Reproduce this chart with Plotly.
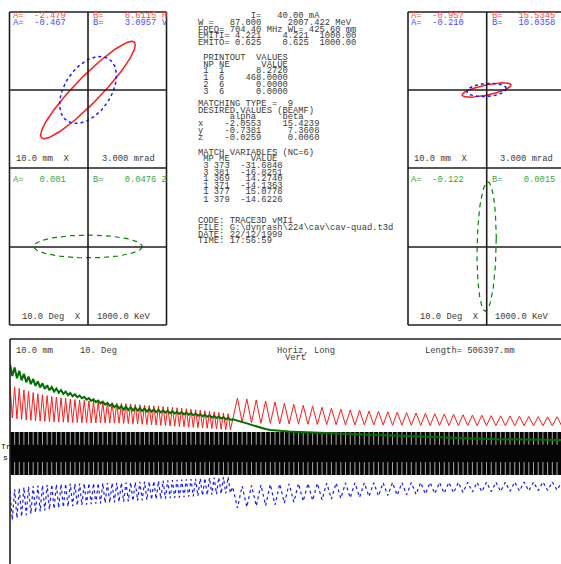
import numpy as np
import plotly.graph_objects as go

W, H = 561, 564
def px(x): return x / W
def py(y): return 1 - y / H

# ---------------- data ----------------
# phase-space ellipse parameters (x, y, z planes)
in_alpha = [-2.479, -0.467, 0.001]
in_beta = [8.6115, 3.0957, 0.0476]
out_alpha = [-0.957, -0.210, -0.122]
out_beta = [15.5345, 10.0358, 0.0015]
emit_in = [4.221, 4.221, 1000.0]
emit_out = [0.625, 0.625, 1000.0]

# lattice: cell lengths (m) and number of cells in the two sections
cell1, ncell1 = 2.32, 48
cell2, ncell2 = 4.70, 36

# envelope extremes per cell (mm / deg), section 1
red_pk1 = [5.96, 5.80, 5.66, 5.53, 5.41, 5.30, 5.20, 5.11, 5.03, 4.96, 4.90, 4.84, 4.79, 4.74, 4.69, 4.65,
           4.61, 4.57, 4.54, 4.50, 4.47, 4.44, 4.41, 4.38, 4.35, 4.32, 4.29, 4.26, 4.23, 4.20, 4.17, 4.14,
           4.11, 4.08, 4.04, 4.01, 3.97, 3.93, 3.89, 3.85, 3.80, 3.76, 3.71, 3.66, 3.61, 3.56, 3.50, 3.45]
red_tr1 = [3.07, 3.00, 2.95, 2.90, 2.86, 2.83, 2.80, 2.77, 2.75, 2.73, 2.71, 2.70, 2.69, 2.68, 2.67, 2.66,
           2.65, 2.64, 2.64, 2.63, 2.63, 2.62, 2.62, 2.61, 2.60, 2.58, 2.56, 2.54, 2.52, 2.50, 2.47, 2.45,
           2.42, 2.40, 2.37, 2.35, 2.32, 2.30, 2.27, 2.25, 2.22, 2.20, 2.17, 2.14, 2.11, 2.08, 2.05, 2.02]
blue_pk1 = [5.88, 5.72, 5.58, 5.45, 5.34, 5.23, 5.13, 5.04, 4.96, 4.89, 4.82, 4.76, 4.71, 4.66, 4.61, 4.57,
            4.53, 4.49, 4.45, 4.42, 4.39, 4.36, 4.33, 4.30, 4.27, 4.24, 4.21, 4.18, 4.15, 4.12, 4.09, 4.06,
            4.03, 4.00, 3.97, 3.94, 3.91, 3.88, 3.84, 3.81, 3.77, 3.74, 3.70, 3.66, 3.62, 3.58, 3.55, 3.51]
blue_tr1 = [3.30, 3.18, 3.09, 3.01, 2.95, 2.90, 2.86, 2.82, 2.79, 2.76, 2.74, 2.72, 2.70, 2.69, 2.68, 2.67,
            2.66, 2.65, 2.65, 2.64, 2.64, 2.63, 2.63, 2.62, 2.61, 2.59, 2.57, 2.55, 2.53, 2.51, 2.49, 2.47,
            2.45, 2.42, 2.40, 2.38, 2.35, 2.33, 2.30, 2.28, 2.26, 2.23, 2.21, 2.19, 2.16, 2.14, 2.12, 2.10]
green_hi1 = [7.81, 7.50, 7.21, 6.95, 6.71, 6.49, 6.29, 6.11, 5.94, 5.79, 5.65, 5.52, 5.39, 5.27, 5.15, 5.03,
             4.92, 4.81, 4.70, 4.60, 4.50, 4.40, 4.30, 4.20, 4.11, 4.06, 4.02, 3.98, 3.94, 3.90, 3.86, 3.82,
             3.78, 3.74, 3.70, 3.66, 3.62, 3.58, 3.54, 3.50, 3.45, 3.40, 3.35, 3.30, 3.25, 3.20, 3.14, 3.09]
green_lo1 = [6.75, 6.55, 6.37, 6.20, 6.04, 5.89, 5.75, 5.62, 5.50, 5.39, 5.28, 5.18, 5.08, 4.98, 4.89, 4.80,
             4.68, 4.57, 4.46, 4.35, 4.24, 4.13, 4.02, 3.91, 3.80, 3.77, 3.74, 3.71, 3.68, 3.65, 3.62, 3.59,
             3.56, 3.53, 3.50, 3.47, 3.43, 3.39, 3.35, 3.31, 3.27, 3.22, 3.17, 3.12, 3.07, 3.02, 2.96, 2.90]

# section 2
red_pk2 = [4.82, 4.74, 4.65, 4.56, 4.47, 4.36, 4.27, 4.18, 4.10, 4.01, 3.92, 3.84, 3.77, 3.73, 3.68, 3.65,
           3.61, 3.58, 3.54, 3.51, 3.47, 3.44, 3.41, 3.39, 3.36, 3.33, 3.31, 3.28, 3.26, 3.25, 3.23, 3.21,
           3.19, 3.18, 3.18, 3.16]
red_tr2 = [2.69, 2.65, 2.61, 2.59, 2.56, 2.54, 2.53, 2.52, 2.50, 2.49, 2.48, 2.47, 2.46, 2.46, 2.46, 2.45,
           2.44, 2.44, 2.43, 2.43, 2.42, 2.42, 2.41, 2.41, 2.41, 2.40, 2.40, 2.40, 2.39, 2.39, 2.39, 2.39,
           2.38, 2.38, 2.38, 2.38]
blue_pk2 = [4.82, 4.74, 4.65, 4.61, 4.56, 4.39, 4.30, 4.23, 4.16, 4.10, 4.04, 3.98, 3.93, 3.88, 3.82, 3.77,
            3.74, 3.70, 3.67, 3.63, 3.60, 3.56, 3.53, 3.49, 3.46, 3.42, 3.40, 3.39, 3.37, 3.35, 3.33, 3.32,
            3.30, 3.28, 3.26, 3.25]
blue_tr2 = [2.98, 2.90, 2.84, 2.79, 2.75, 2.72, 2.70, 2.68, 2.67, 2.66, 2.65, 2.64, 2.63, 2.62, 2.62, 2.61,
            2.61, 2.60, 2.60, 2.59, 2.59, 2.58, 2.58, 2.58, 2.57, 2.57, 2.57, 2.56, 2.56, 2.56, 2.55, 2.55,
            2.55, 2.54, 2.54, 2.54]
green2 = [2.95, 2.85, 2.72, 2.60, 2.47, 2.33, 2.20, 2.10, 2.02, 1.97, 1.93, 1.91, 1.88, 1.86, 1.84, 1.83,
          1.81, 1.80, 1.79, 1.77, 1.76, 1.74, 1.73, 1.71, 1.70, 1.68, 1.67, 1.65, 1.63, 1.61, 1.60, 1.58,
          1.57, 1.55, 1.54, 1.52, 1.51, 1.49, 1.48, 1.46, 1.45, 1.43, 1.41, 1.40, 1.38, 1.37, 1.35, 1.34,
          1.32, 1.31, 1.29, 1.28, 1.26, 1.24, 1.23, 1.22, 1.21, 1.21, 1.20, 1.20, 1.19, 1.19, 1.18, 1.18,
          1.17, 1.17, 1.16, 1.16, 1.15, 1.15, 1.14, 1.14]

info_text = [
    "          I=   40.00 mA",
    "W =   87.000     2007.422 MeV",
    "FREQ= 704.40 MHz WL= 425.60 mm",
    "EMITI= 4.221    4.221  1000.00",
    "EMITO= 0.625    0.625  1000.00",
    " PRINTOUT  VALUES",
    " NP NE      VALUE",
    " 1  1      8.2720",
    " 1  6    468.0000",
    " 2  6      0.0000",
    " 3  6      0.0000",
    "MATCHING TYPE =  9",
    "DESIRED VALUES (BEAMF)",
    "      alpha     beta",
    "x    -2.0553    15.4239",
    "y    -0.7381     7.3608",
    "z    -0.0259     0.0060",
    "MATCH VARIABLES (NC=6)",
    " MP ME    VALUE",
    " 3 373  -31.6848",
    " 3 381  -16.8251",
    " 1 369   14.2740",
    " 1 371  -14.1363",
    " 1 377   15.0778",
    " 1 379  -14.6226",
    "CODE: TRACE3D vMI1",
    "FILE: G:\\dynrash\\224\\cav\\cav-quad.t3d",
    "DATE: 22/12/1999",
    "TIME: 17:56:59",
]
info_y = [16, 23, 29.5, 36.5, 43, 58, 64.5, 71.5, 78, 85, 91.5, 104, 111, 117, 124, 131, 137.5,
          153, 159, 166, 172.5, 179.5, 185.5, 191.5, 199.5, 221.5, 228, 234.5, 241]

# ---------------- figure ----------------
RED, BLUE, GREEN = "#ff1a1a", "#1a1aff", "#008a00"
TRED, TBLUE, TGREEN, TBLK = "#ff4a4a", "#4a4aff", "#3aa63a", "#3a3a3a"
FONT = "Liberation Mono, Courier New, monospace"
FS = 8.8

fig = go.Figure()

def ellipse(alpha, beta, eps):
    t = np.linspace(0, 2 * np.pi, 241)
    x = np.sqrt(eps * beta) * np.cos(t)
    xp = -np.sqrt(eps / beta) * (alpha * np.cos(t) + np.sin(t))
    return x, xp

def add_ell(alpha, beta, eps, color, dash, width, ax):
    x, y = ellipse(alpha, beta, eps)
    fig.add_trace(go.Scatter(x=x, y=y, mode="lines", xaxis="x" + ax, yaxis="y" + ax,
                             line=dict(color=color, dash=dash, width=width),
                             hoverinfo="skip", showlegend=False))

add_ell(in_alpha[0], in_beta[0], emit_in[0], RED, "solid", 1.5, "")
add_ell(in_alpha[1], in_beta[1], emit_in[1], BLUE, "dot", 1.5, "")
add_ell(in_alpha[2], in_beta[2], emit_in[2], GREEN, "5px,4px", 1.2, "2")
add_ell(out_alpha[0], out_beta[0], emit_out[0], RED, "solid", 1.5, "3")
add_ell(out_alpha[1], out_beta[1], emit_out[1], BLUE, "dot", 1.5, "3")
add_ell(out_alpha[2], out_beta[2], emit_out[2], GREEN, "5px,4px", 1.2, "4")

# envelope plot traces
s2 = ncell1 * cell1
# element gap marks in the lattice band
gx, gy = [], []
marks = [i * cell1 for i in range(ncell1)] + [s2 + k * cell2 / 2 for k in range(2 * ncell2)]
for s in marks:
    gx += [s, s, None, s, s, None]
    gy += [1.84, 0.72, None, -0.80, -1.93, None]
fig.add_trace(go.Scatter(x=gx, y=gy, mode="lines", xaxis="x5", yaxis="y5",
                         line=dict(color="#a8a8a8", width=1), hoverinfo="skip", showlegend=False))

sr, vr = [], []
for i in range(ncell1):
    sr += [i * cell1, (i + 0.5) * cell1]
    vr += [red_pk1[i], red_tr1[i]]
for k in range(ncell2):
    sr += [s2 + (k + 0.5) * cell2, s2 + (k + 1) * cell2]
    vr += [red_pk2[k], red_tr2[k]]
fig.add_trace(go.Scatter(x=sr, y=vr, mode="lines", xaxis="x5", yaxis="y5",
                         line=dict(color=RED, width=1), hoverinfo="skip", showlegend=False))

sb, vb = [], []
for i in range(ncell1):
    sb += [i * cell1, (i + 0.5) * cell1]
    vb += [-blue_tr1[i], -blue_pk1[i]]
for k in range(ncell2):
    sb += [s2 + k * cell2, s2 + (k + 0.5) * cell2]
    vb += [-blue_tr2[k], -blue_pk2[k]]
fig.add_trace(go.Scatter(x=sb, y=vb, mode="lines", xaxis="x5", yaxis="y5",
                         line=dict(color=BLUE, width=1.2, dash="dot"), hoverinfo="skip", showlegend=False))

sg, vg = [], []
for i in range(ncell1):
    sg += [i * cell1, (i + 0.5) * cell1]
    vg += [green_hi1[i], green_lo1[i]]
for j in range(2 * ncell2):
    sg.append(s2 + j * cell2 / 2)
    vg.append(green2[j])
fig.add_trace(go.Scatter(x=sg, y=vg, mode="lines", xaxis="x5", yaxis="y5",
                         line=dict(color="#007000", width=2), hoverinfo="skip", showlegend=False))

# ---------------- axes ----------------
hide = dict(visible=False, showgrid=False, zeroline=False, fixedrange=True)
xl = [px(9.5), px(166.5)]
xr = [px(408), 1.0]
yt = [py(168), py(12)]
yb = [py(325), py(168)]
r_right = (W - 486.7) / 7.85
fig.update_layout(
    xaxis=dict(domain=xl, range=[-10, 10], **hide),
    yaxis=dict(domain=yt, range=[-3, 3], **hide),
    xaxis2=dict(domain=xl, range=[-10, 10], anchor="y2", **hide),
    yaxis2=dict(domain=yb, range=[-1000, 1000], anchor="x2", **hide),
    xaxis3=dict(domain=xr, range=[-10, r_right], anchor="y3", **hide),
    yaxis3=dict(domain=yt, range=[-3, 3], anchor="x3", **hide),
    xaxis4=dict(domain=xr, range=[-10, r_right], anchor="y4", **hide),
    yaxis4=dict(domain=yb, range=[-1000, 1000], anchor="x4", **hide),
    xaxis5=dict(domain=[px(10), 1.0], range=[0, (W - 10) / 2.0], anchor="y5", **hide),
    yaxis5=dict(domain=[0, py(339)], range=[-(H - 453) / 11.4, 10], anchor="x5", **hide),
)

# ---------------- frames ----------------
LC = "#1e1e1e"
shapes = []
def ln(x0, y0, x1, y1, w=1.6, color=LC):
    shapes.append(dict(type="line", xref="paper", yref="paper", x0=px(x0), y0=py(y0),
                       x1=px(x1), y1=py(y1), line=dict(color=color, width=w)))

# lattice band
shapes.append(dict(type="rect", xref="paper", yref="paper", x0=px(10), x1=1.0, y0=py(475), y1=py(432),
                   fillcolor="#050505", line=dict(width=0), layer="below"))
for (x0, x1, xc) in [(9.5, 166.5, 88), (408, 566, 486.7)]:
    ln(x0, 12, x1, 12)
    ln(x0, 168, x1, 168)
    ln(x0, 325, x1, 325)
    ln(x0, 12, x0, 325)
    ln(x1, 12, x1, 325)
    ln(xc, 12, xc, 325)
    ln(x0, 90, x1, 90)
    ln(x0, 247, x1, 247)
ln(10, 339, 565, 339)
ln(10, 339, 10, 566)

# ---------------- text ----------------
ann = []
def txt(x, y, s, color=TBLK, size=FS):
    ann.append(dict(text=s.replace(" ", "\u00a0"), x=px(x), y=py(y), xref="paper", yref="paper",
                    xanchor="left", yanchor="middle", showarrow=False, borderpad=0,
                    font=dict(family=FONT, size=size, color=color)))

for s, y in zip(info_text, info_y):
    txt(197, y, s)

# phase-space labels
txt(11.7, 16, "A=  %.3f" % in_alpha[0], TRED)
txt(91.7, 16, "B=    %.4f H" % in_beta[0], TRED)
txt(11.7, 23, "A=  %.3f" % in_alpha[1], TBLUE)
txt(91.7, 23, "B=    %.4f V" % in_beta[1], TBLUE)
txt(15, 159, "10.0 mm  X")
txt(101, 159, "3.000 mrad")
txt(11.7, 180, "A=   %.3f" % in_alpha[2], TGREEN)
txt(91.7, 180, "B=    %.4f Z" % in_beta[2], TGREEN)
txt(20.7, 316.7, "10.0 Deg  X")
txt(95.7, 316.7, "1000.0 KeV")

txt(410, 16, "A=  %.3f" % out_alpha[0], TRED)
txt(490.7, 16, "B=   %.4f H" % out_beta[0], TRED)
txt(410, 23, "A=  %.3f" % out_alpha[1], TBLUE)
txt(490.7, 23, "B=   %.4f V" % out_beta[1], TBLUE)
txt(413.3, 159, "10.0 mm  X")
txt(499, 159, "3.000 mrad")
txt(410, 180, "A=  %.3f" % out_alpha[2], TGREEN)
txt(490.7, 180, "B=    %.4f Z" % out_beta[2], TGREEN)
txt(419, 316.7, "10.0 Deg  X")
txt(494.3, 316.7, "1000.0 KeV")

# envelope plot labels
txt(15, 350.7, "10.0 mm")
txt(79.3, 350.7, "10. Deg")
txt(276, 350.7, "Horiz, Long")
txt(284, 357.7, "Vert")
txt(424, 350.7, "Length= 506397.mm")
txt(0, 446.5, "Tr", "#000000", 8)
txt(2, 457.5, "s", "#000000", 8)

fig.update_layout(
    width=W, height=H, margin=dict(l=0, r=0, t=0, b=0),
    paper_bgcolor="white", plot_bgcolor="rgba(0,0,0,0)",
    shapes=shapes, annotations=ann, showlegend=False,
)
fig.write_html("out.html")
